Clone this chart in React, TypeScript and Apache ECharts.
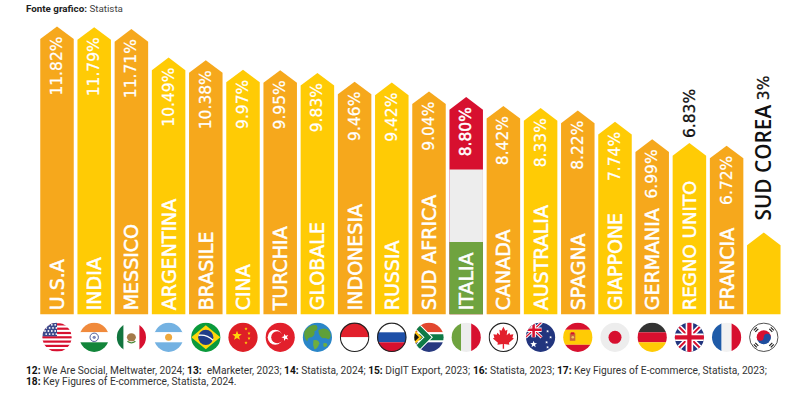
import React, { useEffect, useRef } from "react";
import * as echarts from "echarts";

const categories = ["U.S.A","INDIA","MESSICO","ARGENTINA","BRASILE","CINA","TURCHIA","GLOBALE","INDONESIA","RUSSIA","SUD AFRICA","ITALIA","CANADA","AUSTRALIA","SPAGNA","GIAPPONE","GERMANIA","REGNO UNITO","FRANCIA","SUD COREA"];
const values = [11.82,11.79,11.71,10.49,10.38,9.97,9.95,9.83,9.46,9.42,9.04,8.8,8.42,8.33,8.22,7.74,6.99,6.83,6.72,3];
const valueLabels = ["11.82%","11.79%","11.71%","10.49%","10.38%","9.97%","9.95%","9.83%","9.46%","9.42%","9.04%","8.80%","8.42%","8.33%","8.22%","7.74%","6.99%","6.83%","6.72%","3%"];

const ORANGE = "#F6A81C", YELLOW = "#FFCB05", RED = "#D7102F", GREY = "#EDEDED", GREEN = "#6FA33F";
const FONT = '"DejaVu Sans"';
const SMALL_FONT = "Roboto";

const star = (cx: number, cy: number, r: number, fill: string, rot = -90) => {
  const pts: string[] = [];
  for (let i = 0; i < 10; i++) {
    const a = ((rot + i * 36) * Math.PI) / 180;
    const rr = i % 2 ? r * 0.42 : r;
    pts.push(`${(cx + rr * Math.cos(a)).toFixed(2)},${(cy + rr * Math.sin(a)).toFixed(2)}`);
  }
  return `<polygon points="${pts.join(" ")}" fill="${fill}"/>`;
};
const rect = (x: number, y: number, w: number, h: number, f: string) => `<rect x="${x}" y="${y}" width="${w}" height="${h}" fill="${f}"/>`;
const hStripes = (a: string, b: string, c: string, h1 = 10, h2 = 10) => rect(0, 0, 30, h1, a) + rect(0, h1, 30, h2, b) + rect(0, h1 + h2, 30, 30 - h1 - h2, c);
const vStripes = (a: string, b: string, c: string, w1 = 10, w2 = 10) => rect(0, 0, w1, 30, a) + rect(w1, 0, w2, 30, b) + rect(w1 + w2, 0, 30 - w1 - w2, 30, c);
const union = (w: number, h: number, sw: number) =>
  rect(0, 0, w, h, "#22357E") +
  `<path d="M0 0L${w} ${h}M${w} 0L0 ${h}" stroke="#fff" stroke-width="${sw}"/>` +
  `<path d="M0 0L${w} ${h}M${w} 0L0 ${h}" stroke="#D7102F" stroke-width="${sw * 0.4}"/>` +
  `<path d="M${w / 2} 0V${h}M0 ${h / 2}H${w}" stroke="#fff" stroke-width="${sw * 1.5}"/>` +
  `<path d="M${w / 2} 0V${h}M0 ${h / 2}H${w}" stroke="#D7102F" stroke-width="${sw * 0.85}"/>`;

let usa = rect(0, 0, 30, 30, "#fff");
for (let i = 0; i < 7; i++) usa += rect(0, 1 + i * 4.3, 30, 2.2, "#D7102F");
usa += rect(0, 0, 15, 14, "#3C4A8C");
for (let r = 0; r < 4; r++) for (let c = 0; c < 4; c++) usa += `<circle cx="${3 + c * 3.4 + (r % 2) * 1.2}" cy="${2.5 + r * 3.1}" r="0.9" fill="#fff"/>`;

const leaf = "M15 4.5L17 8.5L19 7.5L18.3 13L21 10.5L21.7 12.5L25 12L24 15.5L25.5 16.3L20.5 20.5L21 22.5L15.7 21.8V26.5H14.3V21.8L9 22.5L9.5 20.5L4.5 16.3L6 15.5L5 12L8.3 12.5L9 10.5L11.7 13L11 7.5L13 8.5Z";

const flagBodies: string[] = [
  usa,
  hStripes("#F08A3C", "#fff", "#12853A") + `<circle cx="15" cy="15" r="4.2" fill="#fff" stroke="#3C4A8C" stroke-width="0.9"/><circle cx="15" cy="15" r="1.6" fill="#7C86B8"/>`,
  rect(0, 0, 30, 30, "#fff") + rect(0, 0, 7, 30, "#12753F") + rect(23, 0, 7, 30, "#D7102F") + `<ellipse cx="15" cy="15" rx="4.5" ry="4" fill="#A47A4A"/><path d="M11 19Q15 22 19 19" stroke="#4C8A3A" stroke-width="1.3" fill="none"/>`,
  hStripes("#74B2E2", "#fff", "#74B2E2") + `<circle cx="15" cy="15" r="3.5" fill="#EFA83C"/>`,
  rect(0, 0, 30, 30, "#0A9A3B") + `<polygon points="15,3 29.5,15 15,27 0.5,15" fill="#FFD60A"/><circle cx="15" cy="15" r="7.6" fill="#1F3C88"/><path d="M7.8 13Q16 12 22.2 18" stroke="#fff" stroke-width="1.4" fill="none"/>`,
  rect(0, 0, 30, 30, "#DE1F26") + star(9, 13.5, 5, "#FFD60A") + star(18, 6.5, 1.7, "#FFD60A") + star(21, 11, 1.7, "#FFD60A") + star(21, 16, 1.7, "#FFD60A") + star(18, 20.5, 1.7, "#FFD60A"),
  rect(0, 0, 30, 30, "#E2202C") + `<circle cx="10" cy="15" r="7.5" fill="#fff"/><circle cx="12" cy="15" r="6" fill="#E2202C"/>` + star(20, 15, 3.8, "#fff", 180),
  rect(0, 0, 30, 30, "#2A86C8") + `<path d="M2 9Q8 1 14 3Q17 7 12 9Q13 13 9 15Q5 15 5 19Q1 16 2 9Z" fill="#5FA03A"/><path d="M16 8Q23 4 27 9Q30 15 26 17Q22 15 20 16Q16 13 16 8Z" fill="#5FA03A"/><path d="M11 18Q16 17 17 21Q15 27 12 27Q10 22 11 18Z" fill="#6FAE3F"/><path d="M21 21Q25 20 25 23Q23 26 21 24Z" fill="#6FAE3F"/>`,
  hStripes("#E2202C", "#fff", "#fff", 15, 7),
  hStripes("#fff", "#1E50A8", "#D7102F"),
  hStripes("#E2472F", "#fff", "#27397F") + `<path d="M0 15H30" stroke="#0E7A46" stroke-width="6"/><path d="M0 1L14 15L0 29" stroke="#fff" stroke-width="7" fill="none"/><path d="M0 1L14 15L0 29" stroke="#0E7A46" stroke-width="5" fill="none"/><polygon points="0,7 8,15 0,23" fill="#FFC20E"/><polygon points="0,10 5,15 0,20" fill="#111"/>`,
  vStripes(GREEN, GREY, RED),
  rect(0, 0, 30, 30, "#fff") + `<path d="${leaf}" fill="#E2202C"/>`,
  rect(0, 0, 30, 30, "#22357E") + union(16, 15, 3) + star(8, 22, 3.6, "#fff") + star(22, 9, 1.6, "#fff") + star(25, 15, 1.6, "#fff") + star(21, 20, 1.6, "#fff") + star(22, 25, 1.6, "#fff"),
  hStripes("#D7102F", "#FFCB05", "#D7102F", 7.5, 15) + rect(7, 11, 5.5, 7.5, "#C8663A") + rect(8, 10, 3.5, 2, "#D7102F") + `<circle cx="10" cy="15" r="1.3" fill="#F1C65C"/>`,
  rect(0, 0, 30, 30, GREY) + `<circle cx="15" cy="15" r="6.5" fill="#D7102F"/>`,
  hStripes("#333333", "#D7102F", "#FFCB05"),
  union(30, 30, 5),
  vStripes("#1F5BA8", "#F2F2F2", "#D7102F"),
  rect(0, 0, 30, 30, "#fff") +
    `<path d="M8 15a7 7 0 0 1 14 0z" fill="#D7102F"/><path d="M8 15a7 7 0 0 0 14 0z" fill="#1F4E9E"/><circle cx="11.5" cy="15" r="3.5" fill="#D7102F"/><circle cx="18.5" cy="15" r="3.5" fill="#1F4E9E"/>` +
    `<path d="M5 8L8 5M6.5 9.5L9.5 6.5M20.5 6.5L23.5 9.5M22 5L25 8M5 22L8 25M6.5 20.5L9.5 23.5M20.5 23.5L23.5 20.5M22 25L25 22" stroke="#222" stroke-width="1.2"/>`,
];
const outlined = new Set(["INDONESIA", "RUSSIA", "CANADA", "SUD COREA"]);

const flagUri = (i: number) => {
  const id = "c" + i;
  const ring = outlined.has(categories[i]) ? `<circle cx="15" cy="15" r="14.2" fill="none" stroke="#222" stroke-width="${categories[i] === "SUD COREA" ? 0.8 : 1.1}"/>` : "";
  const svg = `<svg xmlns="http://www.w3.org/2000/svg" width="30" height="30" viewBox="0 0 30 30"><defs><clipPath id="${id}"><circle cx="15" cy="15" r="14.6"/></clipPath></defs><g clip-path="url(#${id})">${flagBodies[i]}</g>${ring}</svg>`;
  return "data:image/svg+xml;charset=utf-8," + encodeURIComponent(svg);
};
const flagUris = categories.map((_, i) => flagUri(i));

const AXIS_MIN = -0.5;
const BAR_W = 33.5;
const SHOULDER = 12.6;

const renderBar = (params: any, api: any) => {
  const i = api.value(0);
  const v = api.value(1);
  const [cx, top] = api.coord([i, v]);
  const [, base] = api.coord([i, AXIS_MIN]);
  const l = cx - BAR_W / 2, r = cx + BAR_W / 2;
  const name = categories[i];
  const children: any[] = [];
  const pent = (fill: string) => ({
    type: "polygon",
    shape: { points: [[l, base], [l, top + SHOULDER], [cx, top], [r, top + SHOULDER], [r, base]] },
    style: { fill },
  });
  if (name === "ITALIA") {
    const h = (base - top) / 3;
    children.push(pent(RED));
    children.push({ type: "rect", shape: { x: l, y: top + h, width: BAR_W, height: h }, style: { fill: GREY } });
    children.push({ type: "rect", shape: { x: l, y: top + 2 * h, width: BAR_W, height: h }, style: { fill: GREEN } });
  } else {
    children.push(pent(i % 2 === 0 ? ORANGE : YELLOW));
  }
  const vtext = (text: string, x: number, y: number, align: string, fill: string, font: string, heavy = 0.5) => ({
    type: "text",
    x,
    y,
    rotation: Math.PI / 2,
    style: { text, fill, font, align, verticalAlign: "middle", stroke: fill, lineWidth: heavy },
  });
  const nameFont = `19px ${FONT}`;
  const valFont = `15.5px ${FONT}`;
  if (name === "SUD COREA") {
    children.push(vtext(name, cx - 1, top - 12, "left", "#111", `600 20.8px "Open Sans"`, 0));
    children.push(vtext(valueLabels[i], cx, top - 157, "right", "#111", valFont, 0.3));
  } else if (name === "REGNO UNITO") {
    children.push(vtext(name, cx, base - 4, "left", "#fff", `18.2px ${FONT}`));
    children.push(vtext(valueLabels[i], cx + 1, top - 5, "left", "#111", valFont, 0.3));
  } else {
    children.push(vtext(name, cx, base - 4, "left", "#fff", nameFont));
    children.push(vtext(valueLabels[i], cx, top + 10, "right", "#fff", valFont, name === "ITALIA" ? 0.5 : 0.25));
  }
  children.push({
    type: "image",
    style: { image: flagUris[i], x: cx - 15, y: base + 8, width: 30, height: 30 },
  });
  return { type: "group", children };
};

export default function App() {
  const ref = useRef<HTMLDivElement>(null);
  useEffect(() => {
    document.body.style.margin = "0";
    document.body.style.background = "#fff";
    const chart = echarts.init(ref.current!, undefined, { renderer: "svg" });
    chart.setOption({
      animation: false,
      backgroundColor: "#fff",
      grid: { left: 38.4, right: 17.6, top: 22.3, height: 292 },
      xAxis: { type: "category", data: categories, show: false },
      yAxis: { type: "value", min: AXIS_MIN, max: 12, show: false },
      series: [
        {
          type: "custom",
          clip: false,
          renderItem: renderBar,
          encode: { x: 0, y: 1 },
          data: values.map((v, i) => [i, v]),
        },
      ],
      graphic: [
        {
          type: "text",
          left: 26,
          top: 3,
          style: {
            text: "{b|Fonte grafico:} Statista",
            font: `9.8px ${SMALL_FONT}`,
            fill: "#444",
            rich: { b: { font: `bold 9.8px ${SMALL_FONT}`, fill: "#222" } },
          },
        },
        {
          type: "text",
          left: 26,
          top: 365,
          style: {
            text:
              "{b|12:} We Are Social, Meltwater, 2024; {b|13:}  eMarketer, 2023; {b|14:} Statista, 2024; {b|15:} DigIT Export, 2023; {b|16:} Statista, 2023; {b|17:} Key Figures of E-commerce, Statista, 2023;\n{b|18:} Key Figures of E-commerce, Statista, 2024.",
            font: `10.2px ${SMALL_FONT}`,
            fill: "#333",
            lineHeight: 11,
            rich: { b: { font: `bold 10.2px ${SMALL_FONT}`, fill: "#111", lineHeight: 11 } },
          },
        },
      ],
    });
    return () => chart.dispose();
  }, []);
  return <div ref={ref} style={{ position: "absolute", left: 0, top: 0, width: 800, height: 393 }} />;
}
